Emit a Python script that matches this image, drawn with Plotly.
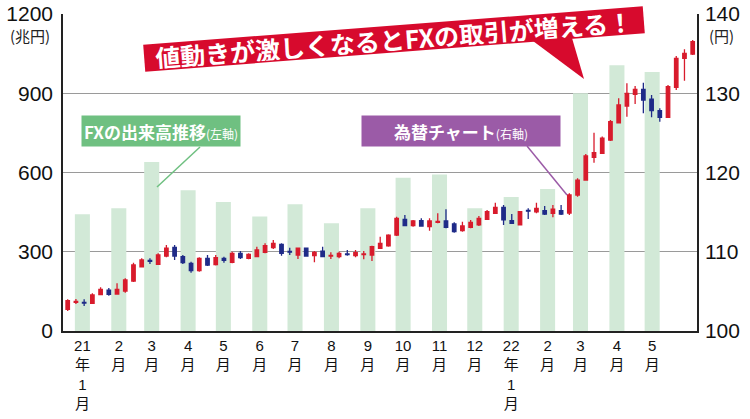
import pandas as pd
import plotly.graph_objects as go

# ---- data ----
months = ["2021-01", "2021-02", "2021-03", "2021-04", "2021-05", "2021-06",
          "2021-07", "2021-08", "2021-09", "2021-10", "2021-11", "2021-12",
          "2022-01", "2022-02", "2022-03", "2022-04", "2022-05"]
month_labels = ["21<br>年<br>1<br>月", "2<br>月", "3<br>月", "4<br>月", "5<br>月", "6<br>月",
                "7<br>月", "8<br>月", "9<br>月", "10<br>月", "11<br>月", "12<br>月",
                "22<br>年<br>1<br>月", "2<br>月", "3<br>月", "4<br>月", "5<br>月"]
fx_volume = [442, 465, 640, 533, 488, 433, 480, 408, 465, 580, 592, 465,
             507, 538, 900, 1006, 980]

first_week = "2021-01-04"
usd_open = [102.74, 103.62, 103.62, 103.49, 104.58, 105.17, 104.67, 105.05, 106.31, 108.11,
            108.90, 108.42, 109.46, 110.56, 109.38, 108.54, 107.61, 109.17, 108.38, 109.17,
            108.67, 109.80, 109.17, 109.38, 109.93, 110.51, 110.94, 110.05, 109.59, 110.44,
            109.50, 110.09, 109.45, 109.38, 109.72, 109.50, 109.64, 109.59, 110.44, 110.76,
            112.11, 114.09, 113.29, 113.92, 113.16, 113.72, 113.88, 113.50, 112.66, 113.08,
            113.38, 114.09, 114.85, 115.61, 113.92, 113.38, 115.22, 115.05, 115.18, 114.85,
            115.18, 114.89, 117.16, 119.05, 121.92, 122.42, 124.10, 126.28, 128.39, 129.87,
            130.50, 129.24, 127.80, 126.97, 130.75, 134.41, 134.95]
usd_high = [104.00, 104.04, 104.00, 104.76, 105.51, 105.43, 106.02, 106.65, 108.62, 109.17,
            109.17, 109.80, 110.85, 110.85, 109.59, 108.74, 109.30, 109.59, 109.60, 109.38,
            110.00, 110.09, 109.80, 110.64, 111.06, 111.48, 111.06, 110.51, 110.51, 110.55,
            110.09, 110.64, 109.93, 110.00, 110.22, 110.22, 110.09, 110.76, 111.90, 112.20,
            114.43, 114.64, 114.00, 114.22, 114.22, 114.85, 115.35, 113.71, 113.79, 114.00,
            114.50, 115.27, 116.19, 115.90, 114.76, 115.15, 115.48, 116.19, 115.77, 115.90,
            115.90, 117.38, 119.27, 122.33, 125.02, 124.53, 126.62, 129.36, 131.26, 130.91,
            131.34, 129.78, 128.10, 131.04, 134.70, 135.55, 136.72]
usd_low = [102.52, 103.41, 103.15, 103.41, 104.50, 104.45, 104.58, 104.84, 106.18, 108.04,
           108.45, 108.33, 109.30, 108.96, 108.45, 107.36, 107.48, 108.20, 108.25, 108.62,
           108.54, 109.08, 109.05, 109.30, 109.80, 110.35, 109.50, 109.59, 109.08, 109.40,
           108.67, 109.30, 109.08, 109.17, 109.50, 109.30, 109.05, 108.83, 110.35, 110.64,
           111.99, 113.25, 113.16, 113.16, 112.66, 113.59, 112.96, 112.41, 112.53, 112.96,
           113.25, 114.00, 114.76, 113.38, 113.50, 113.30, 114.13, 114.85, 114.64, 114.35,
           114.64, 114.64, 116.95, 118.97, 121.24, 122.33, 123.99, 126.20, 127.04, 128.64,
           127.47, 126.97, 126.41, 126.97, 130.41, 131.59, 134.83]
usd_close = [103.82, 103.75, 103.53, 104.54, 105.26, 104.63, 105.26, 106.44, 108.33, 108.96,
             108.80, 109.59, 110.44, 109.46, 108.62, 107.61, 109.17, 108.33, 109.25, 108.90,
             109.80, 109.25, 109.68, 110.22, 110.76, 111.06, 109.80, 109.95, 110.44, 109.46,
             109.93, 109.38, 109.55, 109.80, 109.64, 109.89, 109.72, 110.64, 111.06, 112.11,
             114.22, 113.29, 113.88, 113.25, 113.88, 113.84, 113.08, 112.53, 113.25, 113.71,
             114.22, 115.05, 115.61, 114.01, 113.59, 115.05, 115.12, 115.48, 114.76, 115.36,
             114.76, 117.16, 119.05, 122.08, 122.50, 124.32, 126.41, 128.52, 129.99, 130.50,
             129.15, 127.80, 126.97, 130.83, 134.41, 135.04, 136.50]

# ---- styles ----
RED = "#d81b2c"
BLUE = "#1f2b88"
BAR_GREEN = "#d2e9d7"
LABEL_GREEN = "#6fc081"
LABEL_PURPLE = "#9b5ba7"
BANNER_RED = "#d70a2d"
FONT = "Liberation Sans, Noto Sans CJK JP, sans-serif"
JFONT = "Noto Sans CJK JP, sans-serif"

bar_x = pd.to_datetime(months) + pd.Timedelta(days=15.5)
week_x = pd.date_range(first_week, periods=len(usd_open), freq="7D")

fig = go.Figure()
fig.add_trace(go.Bar(
    x=bar_x, y=fx_volume, marker=dict(color=BAR_GREEN, line=dict(width=0)),
    width=12.8 * 86400000, yaxis="y", showlegend=False, hoverinfo="skip"))
fig.add_trace(go.Candlestick(
    x=week_x, open=usd_open, high=usd_high, low=usd_low, close=usd_close,
    yaxis="y2", showlegend=False,
    increasing=dict(line=dict(color=RED, width=1.3), fillcolor=RED),
    decreasing=dict(line=dict(color=BLUE, width=1.3), fillcolor=BLUE)))

fig.update_layout(
    width=750, height=419, autosize=False,
    margin=dict(l=63, r=53, t=14, b=88, autoexpand=False),
    paper_bgcolor="white", plot_bgcolor="white",
    showlegend=False, boxgap=0.4,
    xaxis=dict(type="date", range=["2020-12-31", "2022-06-23 16:00"],
               tickmode="array", tickvals=bar_x, ticktext=month_labels,
               tickfont=dict(family=FONT, size=15, color="#111"),
               showgrid=False, showline=True, linecolor="#222", linewidth=1.5,
               ticks="", rangeslider=dict(visible=False), fixedrange=True,
               automargin=False),
    yaxis=dict(range=[0, 1200], tickvals=[0, 300, 600, 900, 1200],
               tickfont=dict(family=FONT, size=21, color="#111"),
               showgrid=True, gridcolor="#9a9a9a", gridwidth=1,
               zeroline=False, showline=True, linecolor="#222", linewidth=1.5,
               ticks="", ticklabelstandoff=4, automargin=False),
    yaxis2=dict(range=[100, 140], tickvals=[100, 110, 120, 130, 140],
                overlaying="y", side="right",
                tickfont=dict(family=FONT, size=21, color="#111"),
                showgrid=False, zeroline=False, showline=True, linecolor="#222",
                linewidth=1.5, ticks="", ticklabelstandoff=2, automargin=False),
)

def px(x):
    return (x - 63) / 634.0

def py(y):
    return (331 - y) / 317.0

annotations = [
    dict(text="(兆円)", x=px(30), y=py(35), xref="paper", yref="paper",
         xanchor="center", yanchor="middle",
         showarrow=False, font=dict(family=JFONT, size=15, color="#222")),
    dict(text="(円)", x=px(721), y=py(35), xref="paper", yref="paper",
         xanchor="center", yanchor="middle",
         showarrow=False, font=dict(family=JFONT, size=15, color="#222")),
    dict(text="<b>FXの出来高推移</b><span style='font-size:12px'>(左軸)</span>",
         x=px(161), y=py(131), xref="paper", yref="paper", showarrow=False,
         xanchor="center", yanchor="middle",
         bgcolor=LABEL_GREEN, width=154, height=26, borderpad=2,
         font=dict(family=JFONT, size=17, color="white")),
    dict(text="<b>為替チャート</b><span style='font-size:12px'>(右軸)</span>",
         x=px(461), y=py(131), xref="paper", yref="paper", showarrow=False,
         xanchor="center", yanchor="middle",
         bgcolor=LABEL_PURPLE, width=194, height=26, borderpad=2,
         font=dict(family=JFONT, size=17, color="white")),
    dict(text="<b>値動きが激しくなるとFXの取引が増える！</b>",
         x=px(394), y=py(39), xref="paper", yref="paper", showarrow=False,
         xanchor="center", yanchor="middle",
         bgcolor=BANNER_RED, textangle=-4.4, width=498, height=24, borderpad=1,
         font=dict(family=JFONT, size=25, color="white")),
]
fig.update_layout(annotations=annotations)

shapes = [
    dict(type="path", xref="paper", yref="paper",
         path=f"M {px(533)},{py(41)} L {px(572)},{py(38)} L {px(584)},{py(79)} Z",
         fillcolor=BANNER_RED, line=dict(width=0)),
    dict(type="line", xref="paper", yref="paper",
         x0=px(157), y0=py(187), x1=px(200), y1=py(147),
         line=dict(color=LABEL_GREEN, width=1.5)),
    dict(type="line", xref="paper", yref="paper",
         x0=px(527), y0=py(146), x1=px(567), y1=py(195),
         line=dict(color=LABEL_PURPLE, width=1.5)),
]
fig.update_layout(shapes=shapes)

fig.write_html("out.html", config={"displayModeBar": False},
               post_script="document.body.style.margin='0';document.body.style.overflow='hidden';")
